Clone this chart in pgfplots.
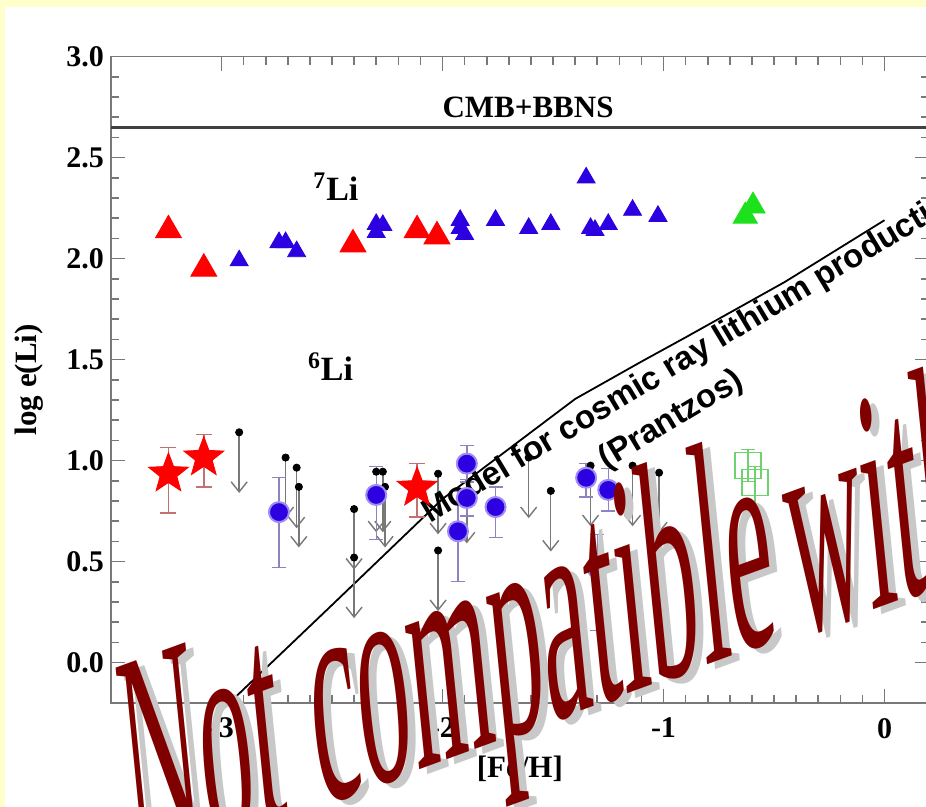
\documentclass[border=0pt]{standalone}
\usepackage{pgfplots}
\pgfplotsset{compat=1.18}
\usepackage{fontspec}
\setmainfont{Liberation Serif}
\setsansfont{Liberation Sans}
\usetikzlibrary{arrows.meta}
\definecolor{bgyellow}{RGB}{255,255,204}
\definecolor{liblue}{RGB}{45,0,225}
\definecolor{ligreen}{RGB}{30,225,30}
\definecolor{sqgreen}{RGB}{110,210,110}
\definecolor{darkred}{RGB}{128,0,0}
\definecolor{shadowgray}{RGB}{200,200,200}
\definecolor{axgray}{RGB}{120,120,120}
\pgfdeclareplotmark{fstar}{%
 \pgfpathmoveto{\pgfqpointpolar{90}{\pgfplotmarksize}}%
 \pgfpathlineto{\pgfqpointpolar{126}{0.42\pgfplotmarksize}}%
 \pgfpathlineto{\pgfqpointpolar{162}{\pgfplotmarksize}}%
 \pgfpathlineto{\pgfqpointpolar{198}{0.42\pgfplotmarksize}}%
 \pgfpathlineto{\pgfqpointpolar{234}{\pgfplotmarksize}}%
 \pgfpathlineto{\pgfqpointpolar{270}{0.42\pgfplotmarksize}}%
 \pgfpathlineto{\pgfqpointpolar{306}{\pgfplotmarksize}}%
 \pgfpathlineto{\pgfqpointpolar{342}{0.42\pgfplotmarksize}}%
 \pgfpathlineto{\pgfqpointpolar{18}{\pgfplotmarksize}}%
 \pgfpathlineto{\pgfqpointpolar{54}{0.42\pgfplotmarksize}}%
 \pgfpathclose\pgfusepathqfillstroke}

% big slanted word: #1 = x (pt), #2 = y (pt), #3 = word
\newcommand{\bigword}[3]{%
 \begin{scope}[shift={(#1pt+4pt,#2pt-2.5pt)}, cm={0.333,0.1215,-0.1,1,(0,0)}]
 \node[transform shape, anchor=base west, inner sep=0, text=shadowgray, font=\fontsize{156}{160}\selectfont] at (0,0) {#3};
 \end{scope}
 \begin{scope}[shift={(#1pt,#2pt)}, cm={0.333,0.1215,-0.1,1,(0,0)}]
 \node[transform shape, anchor=base west, inner sep=0, text=darkred, font=\fontsize{156}{160}\selectfont] at (0,0) {#3};
 \end{scope}}

\pgfplotstableread{
x y
-2.92 1.14
-2.71 1.015
-2.66 0.965
-2.65 0.87
-2.40 0.76
-2.40 0.52
-2.30 0.945
-2.27 0.945
-2.26 0.87
-2.02 0.935
-2.02 0.555
-1.61 1.015
-1.51 0.85
-1.33 0.975
-1.14 0.975
-1.02 0.94
}\limits
\pgfplotstableread{
x y
-1.89 0.89
}\limitsnodot
\pgfplotstableread{
x y ep em
-2.74 0.745 0.17 0.275
-2.30 0.83 0.14 0.22
-1.89 0.985 0.09 0.09
-1.89 0.815 0.09 0.09
-1.76 0.77 0.10 0.15
-1.93 0.65 0.20 0.25
-1.35 0.915 0.07 0.095
-1.25 0.855 0.105 0.105
-1.30 0.47 0.165 0.31
}\bluecirc
\pgfplotstableread{
x y ep em
-3.24 0.935 0.13 0.195
-3.08 1.015 0.115 0.145
-2.115 0.865 0.12 0.145
}\redstars
\pgfplotstableread{
x y ep em
-0.618 0.975 0.08 0.08
-0.586 0.89 0.08 0.12
}\greensq

\begin{document}
\begin{tikzpicture}
\useasboundingbox (0,0) rectangle (463pt,403.5pt);
\clip (0,0) rectangle (463pt,403.5pt);
\fill[bgyellow] (0,0) rectangle (463pt,403.5pt);
\fill[white] (2.5pt,0) rectangle (463pt,400pt);
\begin{axis}[
  at={(55.5pt,52pt)}, anchor=south west,
  x=110.5pt, y=101pt,
  xmin=-3.5, xmax=0.2, ymin=-0.2, ymax=3.0,
  clip=false,
  axis line style={axgray, line width=0.9pt},
  tick style={axgray, line width=0.8pt},
  major tick length=7pt, minor tick length=4pt,
  xtick={-3,-2,-1,0}, xticklabels={-3,-2,-1,0},
  minor x tick num=9,
  ytick={0,0.5,1,1.5,2,2.5,3}, yticklabels={0.0,0.5,1.0,1.5,2.0,2.5,3.0},
  minor y tick num=4,
  ticklabel style={font=\fontsize{15}{17}\selectfont\bfseries},
  xticklabel style={yshift=-4pt},
  xlabel={[Fe/H]}, ylabel={log e(Li)},
  label style={font=\fontsize{15.5}{17}\selectfont\bfseries},
  xlabel style={at={(axis description cs:0.5,-0.116)}, anchor=base},
  ylabel style={at={(axis description cs:-0.100,0.5)}, anchor=center},
]
% CMB+BBNS line
\addplot[draw=black!75, line width=1.3pt] coordinates {(-3.5,2.65) (0.2,2.65)};
% model line
\addplot[black, line width=0.9pt] coordinates {(-2.965,-0.2) (-2.5,0.285) (-2.0,0.81) (-1.4,1.305) (-1.1,1.49) (-0.9,1.61) (-0.45,1.885) (0,2.19)};
% 7Li
\addplot[only marks, mark=triangle*, mark size=7.5pt, color=red] coordinates {(-3.24,2.14) (-3.08,1.95) (-2.405,2.07) (-2.115,2.14) (-2.025,2.11)};
\addplot[only marks, mark=triangle*, mark size=5.2pt, color=liblue] coordinates {(-2.92,1.99) (-2.74,2.08) (-2.71,2.08) (-2.66,2.035) (-2.30,2.13) (-2.30,2.17) (-2.27,2.165) (-1.92,2.19) (-1.92,2.15) (-1.90,2.12) (-1.76,2.19) (-1.61,2.15) (-1.51,2.17) (-1.35,2.40) (-1.33,2.15) (-1.31,2.14) (-1.25,2.17) (-1.14,2.24) (-1.025,2.21)};
\addplot[only marks, mark=triangle*, mark size=7pt, color=ligreen] coordinates {(-0.63,2.21) (-0.595,2.26)};
% 6Li upper limits
\addplot[axgray, line width=0.7pt, -{Straight Barb[length=5pt,width=8pt]}, quiver={u=0,v=-0.3}] table {\limits};
\addplot[axgray, line width=0.7pt, -{Straight Barb[length=5pt,width=8pt]}, quiver={u=0,v=-0.3}] table {\limitsnodot};
\addplot[only marks, mark=*, mark size=1.8pt, black] table {\limits};
% red stars
\addplot[only marks, mark=fstar, mark size=10.5pt, red,
  error bars/.cd, y dir=both, y explicit,
  error bar style={red!40!gray!80, line width=0.7pt},
  error mark options={red!40!gray!80, line width=0.7pt, mark size=4pt, rotate=90}]
  table[x=x, y=y, y error plus=ep, y error minus=em] {\redstars};
% blue circles
\addplot[only marks, mark=*, mark size=5pt, mark options={fill=liblue, draw=liblue!45, line width=1pt},
  error bars/.cd, y dir=both, y explicit,
  error bar style={liblue!40!gray!70, line width=0.7pt},
  error mark options={liblue!40!gray!70, line width=0.7pt, mark size=3.5pt, rotate=90}]
  table[x=x, y=y, y error plus=ep, y error minus=em] {\bluecirc};
% green squares
\addplot[only marks, mark=square, mark size=6.5pt, mark options={draw=sqgreen, line width=0.6pt}, sqgreen,
  error bars/.cd, y dir=both, y explicit,
  error bar style={sqgreen, line width=0.6pt},
  error mark options={sqgreen, line width=0.6pt, mark size=3.5pt, rotate=90}]
  table[x=x, y=y, y error plus=ep, y error minus=em] {\greensq};
% labels
\node[anchor=base, font=\fontsize{15.5}{17}\selectfont\bfseries] at (axis cs:-1.613,2.698) {CMB+BBNS};
\node[anchor=base west, inner sep=0, font=\fontsize{17}{19}\selectfont\bfseries] at (axis cs:-2.586,2.287) {\textsuperscript{7}Li};
\node[anchor=base west, inner sep=0, font=\fontsize{17}{19}\selectfont\bfseries] at (axis cs:-2.61,1.396) {\textsuperscript{6}Li};
\node[rotate=31, anchor=base west, inner sep=0, font=\sffamily\bfseries\fontsize{16.5}{18}\selectfont] at (axis cs:-2.057,0.688) {Model for cosmic ray lithium production};
\node[rotate=31, anchor=base, inner sep=0, font=\sffamily\bfseries\fontsize{16.5}{18}\selectfont] at (axis cs:-0.943,1.163) {(Prantzos)};
\end{axis}
% big overlay text
\bigword{66.5}{-33.5}{Not}
\bigword{159.5}{0.3}{compatible}
\bigword{398}{84.3}{with}
\end{tikzpicture}
\end{document}
